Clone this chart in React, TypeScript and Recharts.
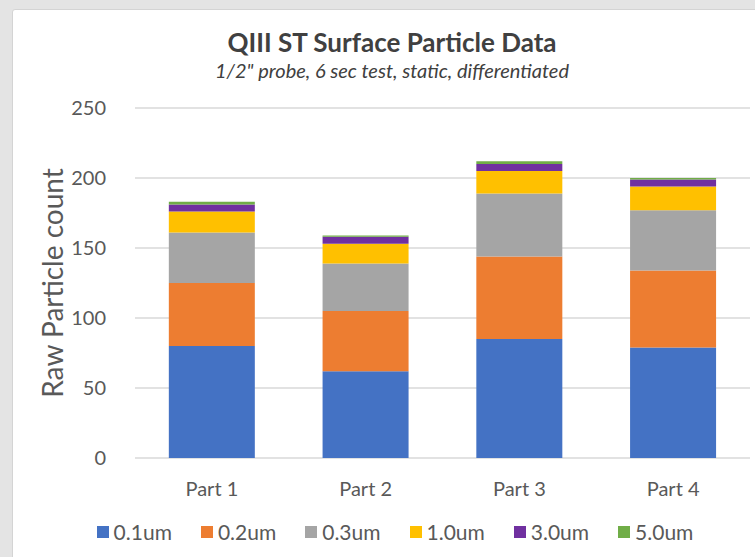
import React from 'react';
import { BarChart, Bar, XAxis, YAxis, CartesianGrid } from 'recharts';

const categories = ['Part 1', 'Part 2', 'Part 3', 'Part 4'];
const sizes = ['0.1um', '0.2um', '0.3um', '1.0um', '3.0um', '5.0um'];
const colors = ['#4472C4', '#ED7D31', '#A5A5A5', '#FFC000', '#7030A0', '#70AD47'];

// raw counts per size bucket, one entry per part
const um01 = [80, 62, 85, 79];
const um02 = [45, 43, 59, 55];
const um03 = [36, 34, 45, 43];
const um10 = [15, 14, 16, 17];
const um30 = [5, 5, 5, 5];
const um50 = [2, 1, 2, 1];

const yTicks = [0, 50, 100, 150, 200, 250];

const seriesValues = [um01, um02, um03, um10, um30, um50];

const data = categories.map((name, i) => {
  const row: Record<string, string | number> = { name };
  sizes.forEach((s, k) => {
    row[s] = seriesValues[k][i];
  });
  return row;
});

const font = 'Lato, "Open Sans", sans-serif';
const textColor = '#595959';

function SizeLegend() {
  return (
    <div
      style={{
        position: 'absolute',
        left: 0,
        width: 790,
        top: 519,
        display: 'flex',
        justifyContent: 'center',
        fontFamily: font,
        fontSize: 21,
        lineHeight: '26px',
        color: textColor,
      }}
    >
      {sizes.map((s, i) => (
        <div key={s} style={{ display: 'flex', alignItems: 'center', margin: '0 14.5px' }}>
          <span
            style={{
              display: 'inline-block',
              width: 12,
              height: 12,
              background: colors[i],
              marginRight: 5,
            }}
          />
          <span>{s}</span>
        </div>
      ))}
    </div>
  );
}

export default function App() {
  return (
    <div
      style={{
        position: 'absolute',
        left: 0,
        top: 0,
        width: 755,
        height: 557,
        overflow: 'hidden',
        background: '#e4e4e4',
      }}
    >
      <div
        style={{
          position: 'absolute',
          left: 12,
          top: 9,
          width: 780,
          height: 580,
          background: '#ffffff',
          border: '1px solid #d4d4d4',
          borderRadius: 3,
        }}
      />
      <div
        style={{
          position: 'absolute',
          left: 0,
          width: 784,
          top: 26,
          textAlign: 'center',
          fontFamily: font,
          color: '#404040',
        }}
      >
        <div style={{ fontSize: 26, fontWeight: 700, lineHeight: '32px' }}>
          QIII ST Surface Particle Data
        </div>
        <div style={{ fontSize: 20, fontStyle: 'italic', lineHeight: '24px' }}>
          1/2" probe, 6 sec test, static, differentiated
        </div>
      </div>
      <div style={{ position: 'absolute', left: 0, top: 0 }}>
        <BarChart
          width={755}
          height={557}
          data={data}
          margin={{ top: 108, right: 5, left: 0, bottom: 69 }}
          barCategoryGap="22%"
        >
          <CartesianGrid vertical={false} stroke="#d9d9d9" strokeWidth={1.5} />
          <XAxis
            dataKey="name"
            axisLine={false}
            tickLine={false}
            tick={{ fill: textColor, fontSize: 20, fontFamily: font }}
            tickMargin={18}
          />
          <YAxis
            width={135}
            domain={[0, 250]}
            ticks={yTicks}
            axisLine={false}
            tickLine={false}
            tickMargin={23}
            tick={{ fill: textColor, fontSize: 20, fontFamily: font }}
            label={{
              value: 'Raw Particle count',
              angle: -90,
              position: 'insideLeft',
              offset: 53,
              style: { textAnchor: 'middle', fill: textColor, fontSize: 28, fontFamily: font },
            }}
          />
          {sizes.map((s, i) => (
            <Bar
              key={s}
              dataKey={s}
              stackId="a"
              fill={colors[i]}
              isAnimationActive={false}
            />
          ))}
        </BarChart>
      </div>
      <SizeLegend />
    </div>
  );
}
